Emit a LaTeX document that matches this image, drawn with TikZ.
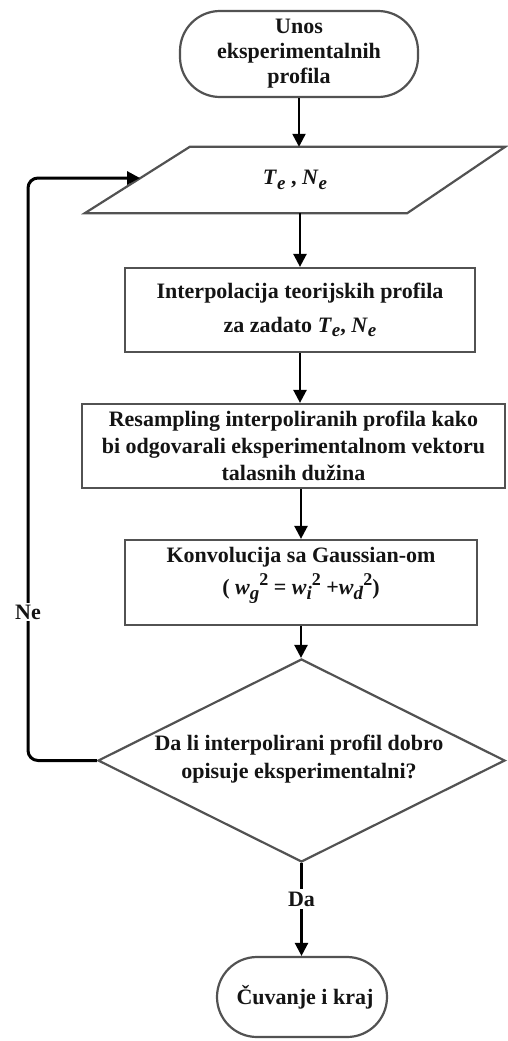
\documentclass[tikz,border=0pt]{standalone}
\usepackage{fontspec}
\setmainfont{Liberation Serif}
\usetikzlibrary{shapes.geometric, arrows.meta}
\newcommand{\sbs}[2]{\textit{#1}\raisebox{-0.45ex}{\fontsize{19}{19}\selectfont\textit{#2}}}
\newcommand{\wsq}[1]{\textit{w}\raisebox{-0.45ex}{\fontsize{19}{19}\selectfont\textit{#1}}\raisebox{0.9ex}{\fontsize{18}{18}\selectfont 2}}
\begin{document}
\begin{tikzpicture}[x=1pt,y=-1pt,
  shapeline/.style={draw=black!68, line width=2.2pt},
  txt/.style={font=\fontsize{22}{25}\selectfont\bfseries, align=center, text=black!92},
  term/.style={shapeline, rectangle, rounded corners=40pt, inner sep=0pt, txt},
  procbox/.style={shapeline, rectangle, inner sep=0pt, txt},
  arr/.style={line width=2.4pt, -{Triangle[length=13pt,width=13pt]}},
  loopline/.style={line width=3pt, rounded corners=10pt, -{Triangle[length=13pt,width=13pt]}},
  lbl/.style={txt, fill=white, inner sep=3pt}
]
\useasboundingbox (0,0) rectangle (508,1041);

\node[term, minimum width=238pt, minimum height=86pt] (start) at (299,54) {Unos\\eksperimentalnih\\profila};

% parallelogram (input)
\node[rectangle, minimum width=420pt, minimum height=66pt, inner sep=0pt, txt] (para) at (295,180) {\sbs{T}{e} , \sbs{N}{e}};
\draw[shapeline, line join=miter] ([xshift=105pt]para.north west) -- (para.north east)
  -- ([xshift=-98pt]para.south east) -- (para.south west) -- cycle;
\coordinate (paraL) at (140,178);

\node[procbox, minimum width=350pt, minimum height=84pt] (b1) at (300,310)
  {Interpolacija teorijskih profila\\[9pt] za zadato \sbs{T}{e}, \sbs{N}{e}};

\node[procbox, minimum width=423pt, minimum height=84pt, font=\fontsize{22}{27}\selectfont\bfseries] (b2) at (293.5,446)
  {Resampling interpoliranih profila kako\\bi odgovarali eksperimentalnom vektoru\\talasnih dužina};

\node[procbox, minimum width=352pt, minimum height=85pt] (b3) at (301,582.5) {};
\node[txt] (b3text) at (301,575) {Konvolucija sa Gaussian-om\\[6pt] ( \wsq{g} = \wsq{i} +\wsq{d})};

\node[diamond, shapeline, minimum width=407pt, minimum height=203pt, inner sep=0pt] (dec) at (301.5,760.5) {};
\node[txt, font=\fontsize{22}{28}\selectfont\bfseries] (dectext) at (299,759) {Da li interpolirani profil dobro\\opisuje eksperimentalni?};

\node[term, minimum width=170pt, minimum height=80pt] (stop) at (302,997) {\hspace*{6pt}Čuvanje i kraj};

\coordinate (loopx) at (28,0);

\draw[arr] (start.south) -- (start.south |- para.north);
\draw[arr] (para.south -| b1.north) -- (b1.north);
\draw[arr] (b1.south) -- (b1.south |- b2.north);
\draw[arr] (b3.north |- b2.south) -- (b3.north);
\draw[arr] (b3.south) -- (b3.south |- dec.north);
\draw[arr] (dec.south) -- (dec.south |- stop.north);
\node[lbl] (da) at (301.5,899) {Da};

\draw[loopline] (dec.west) -- (dec.west -| loopx) -- (paraL -| loopx) -- (paraL);
\node[lbl, inner sep=2pt] (ne) at (28,612) {Ne};
\end{tikzpicture}
\end{document}
